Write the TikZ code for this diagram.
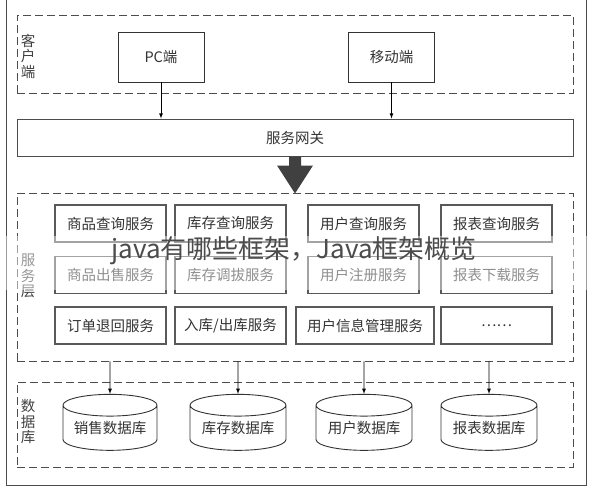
\documentclass[tikz,border=0pt]{standalone}
\usepackage{fontspec}
\setmainfont{Noto Sans CJK SC}
\colorlet{framecolor}{black!70}
\colorlet{boxcolor}{black!65}
\colorlet{labelcolor}{black!75}
\usetikzlibrary{
  arrows,
  shapes,
  shapes.geometric,
}

\begin{document}
\begin{tikzpicture}[x=1pt,y=-1pt,>=latex]
	\tikzstyle{every node}=[font=\fontsize{14.5}{16}\selectfont, text=black!80]
	\tikzstyle{layer}=[draw=framecolor, dash pattern=on 8pt off 4pt, line width=0.9pt, minimum width=556pt, inner sep=0pt]
	\tikzstyle{sidelabel}=[align=center, text=labelcolor, font=\fontsize{14.5}{15.5}\selectfont]
	\tikzstyle{clientbox}=[draw=black!80, line width=0.9pt, minimum width=86pt, minimum height=50pt]
	\tikzstyle{svcbox}=[draw=boxcolor, line width=1.3pt, minimum width=111pt, minimum height=37pt, inner sep=0pt]
	\tikzstyle{dbbox}=[draw=black!80, line width=0.9pt, cylinder, shape border rotate=90, aspect=0.3, minimum width=94pt, minimum height=56pt, inner sep=0pt]
	\useasboundingbox (0,0) rectangle (592,490);
	% basic structure
	\draw [framecolor, line width=1pt] (6,-5) rectangle (586,485);
	\node (clientlayer) [layer, minimum height=78pt] at (295,54) {};
	\node (svclayer) [layer, minimum height=168pt] at (295,277) {};
	\node (dblayer) [layer, minimum height=85pt] at (295,424.5) {};
	\node (clientlbl) [sidelabel] at (28,56) {客\\户\\端};
	\node (svclbl) [sidelabel] at (28,276) {服\\务\\层};
	\node (dblbl) [sidelabel] at (28,422) {数\\据\\库};
	% clients
	\node (pc) [clientbox] at (161,57) {PC端};
	\node (mobile) [clientbox] at (391.5,57) {移动端};
	% gateway
	\node (gateway) [draw=framecolor, line width=1pt, minimum width=556pt, minimum height=37pt] at (295,137.5) {服务网关};
	\draw [->, line width=0.8pt] (pc) -- (pc |- gateway.north);
	\draw [->, line width=0.8pt] (mobile) -- (mobile |- gateway.north);
	\fill [black!75, shift={(gateway.south)}] (-6,0) -- (6,0) -- (6,9) -- (18,9) -- (0,37) -- (-18,9) -- (-6,9) -- cycle;
	% services
	\node (s11) [svcbox] at (110.5,223.5) {商品查询服务};
	\node (s12) [svcbox] at (230.5,223.5) {库存查询服务};
	\node (s13) [svcbox] at (363.5,223.5) {用户查询服务};
	\node (s14) [svcbox] at (496.5,223.5) {报表查询服务};
	\node (s21) [svcbox] at (110.5,275) {商品出售服务};
	\node (s22) [svcbox] at (230.5,275) {库存调拔服务};
	\node (s23) [svcbox] at (363.5,275) {用户注册服务};
	\node (s24) [svcbox] at (496.5,275) {报表下载服务};
	\node (s31) [svcbox] at (110.5,325.5) {订单退回服务};
	\node (s32) [svcbox] at (230.5,325.5) {入库/出库服务};
	\node (s33) [svcbox, minimum width=138pt] at (365,325.5) {用户信息管理服务};
	\node (s34) [svcbox] at (496.5,325.5) {……};
	% databases
	\node (db1) [dbbox] at (110,428) {销售数据库};
	\node (db2) [dbbox, minimum width=96pt] at (238,428) {库存数据库};
	\node (db3) [dbbox, minimum width=96pt] at (364,428) {用户数据库};
	\node (db4) [dbbox, minimum width=96pt] at (489,428) {报表数据库};
	\foreach \db in {db1,db2,db3,db4}
		\draw [->, line width=0.8pt] (\db |- svclayer.south) -- (\db.north);
	% watermark
	\fill [white, opacity=0.45] (0,236) rectangle (592,290);
	\node (watermark) [font=\fontsize{26}{28}\selectfont, text=black!70] at (294,251) {java有哪些框架，Java框架概览};
\end{tikzpicture}
\end{document}
